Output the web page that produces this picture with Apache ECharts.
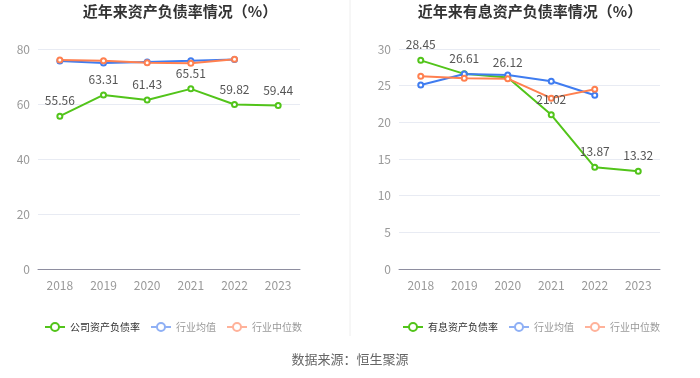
<!DOCTYPE html>
<html><head><meta charset="utf-8">
<script src="https://cdn.jsdelivr.net/npm/echarts@6/dist/echarts.min.js"></script>
<style>html,body{margin:0;padding:0;background:#fff}#c{width:700px;height:378px}</style>
</head><body><div id="c"></div>
<script>
const years = ['2018','2019','2020','2021','2022','2023'];
const companyDebt = [55.56, 63.31, 61.43, 65.51, 59.82, 59.44];
const industryAvg1 = [75.6, 74.9, 75.3, 75.7, 76.2, null];
const industryMed1 = [76.0, 75.7, 75.0, 74.8, 76.3, null];
const interestDebt = [28.45, 26.61, 26.12, 21.02, 13.87, 13.32];
const industryAvg2 = [25.1, 26.6, 26.45, 25.6, 23.7, null];
const industryMed2 = [26.3, 26.0, 25.95, 23.3, 24.5, null];
const leftTicks = [0, 20, 40, 60, 80];
const rightTicks = [0, 5, 10, 15, 20, 25, 30];

const GREEN = '#52c41a', BLUE = '#3f7cf0', ORANGE = '#ff8050';
const chart = echarts.init(document.getElementById('c'));
const font = '"Noto Sans CJK SC", "Noto Sans", sans-serif';
function yAxis(idx, ticks){
  return {gridIndex: idx, type:'value', min: ticks[0], max: ticks[ticks.length-1], interval: ticks[1]-ticks[0],
    axisLabel:{color:'#999', fontSize:12, fontFamily:font}, axisLine:{show:false}, axisTick:{show:false},
    splitLine:{lineStyle:{color:'#e8ebf3'}}};
}
function xAxis(idx){
  return {gridIndex: idx, type:'category', data: years, boundaryGap:true,
    axisLabel:{color:'#999', fontSize:12, fontFamily:font, margin:10},
    axisLine:{lineStyle:{color:'#8e8ea0'}}, axisTick:{alignWithLabel:true, lineStyle:{color:'#8e8ea0'}}};
}
function line(name, data, color, xi, label){
  return {name, type:'line', data, xAxisIndex:xi, yAxisIndex:xi, symbol:'emptyCircle', symbolSize:5,
    itemStyle:{color}, lineStyle:{color, width:2},
    label: label ? {show:true, position:'top', color:'#555', fontSize:12, fontFamily:font, distance:6} : {show:false}};
}
function legendData(mainName){
  return [
    {name: mainName, textStyle:{color:'#333'}},
    {name:'行业均值', textStyle:{color:'#999'}, itemStyle:{color:'#8fb0f5'}, lineStyle:{color:'#8fb0f5'}},
    {name:'行业中位数', textStyle:{color:'#999'}, itemStyle:{color:'#ffb29a'}, lineStyle:{color:'#ffb29a'}}
  ];
}
const legendCommon = {top:317, itemWidth:20, itemHeight:10, itemGap:10, textStyle:{fontSize:10, fontFamily:font}, selectedMode:false};
chart.setOption({
  animation:false,
  title:[
    {text:'近年来资产负债率情况（%）', left:175, top:-1, textAlign:'center', textStyle:{fontSize:15, fontWeight:'bold', color:'#333', fontFamily:font}},
    {text:'近年来有息资产负债率情况（%）', left:525, top:-1, textAlign:'center', textStyle:{fontSize:15, fontWeight:'bold', color:'#333', fontFamily:font}}
  ],
  legend:[
    Object.assign({data: legendData('公司资产负债率'), left:39}, legendCommon),
    Object.assign({data: legendData('有息资产负债率'), left:397}, legendCommon)
  ],
  grid:[
    {left:38, right:400, top:49, bottom:109},
    {left:399, right:40, top:49, bottom:109}
  ],
  xAxis:[xAxis(0), xAxis(1)],
  yAxis:[yAxis(0, leftTicks), yAxis(1, rightTicks)],
  series:[
    line('公司资产负债率', companyDebt, GREEN, 0, true),
    line('行业均值', industryAvg1, BLUE, 0, false),
    line('行业中位数', industryMed1, ORANGE, 0, false),
    line('有息资产负债率', interestDebt, GREEN, 1, true),
    line('行业均值', industryAvg2, BLUE, 1, false),
    line('行业中位数', industryMed2, ORANGE, 1, false)
  ],
  graphic:[
    {type:'line', shape:{x1:350, y1:0, x2:350, y2:336}, style:{stroke:'#eeeeee', lineWidth:1}},
    {type:'text', left:'center', top:353, style:{text:'数据来源：恒生聚源', fill:'#666', fontSize:13, fontFamily:font}}
  ]
});
</script></body></html>
